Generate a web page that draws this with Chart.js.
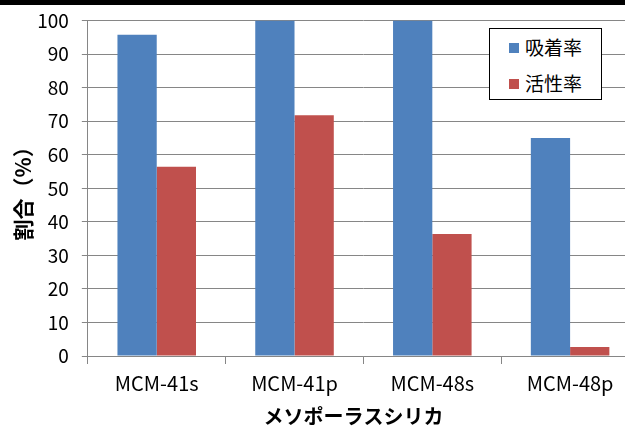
<!DOCTYPE html>
<html>
<head>
<meta charset="utf-8">
<script src="https://cdn.jsdelivr.net/npm/chart.js@4"></script>
<style>
  body { margin: 0; width: 625px; height: 428px; overflow: hidden; background: #fff; position: relative; }
  #topbar { position: absolute; left: 0; top: 0; width: 625px; height: 5px; background: #000; z-index: 2; }
  #wrap { position: absolute; left: 0; top: 0; width: 645px; height: 428px; }
  #legend { position: absolute; left: 489px; top: 28px; width: 113px; height: 72px; border: 1px solid #000;
    background: #fff; font-family: "Noto Sans CJK JP", sans-serif; font-size: 19px; color: #000; box-sizing: border-box; z-index: 1; }
  #legend div { position: absolute; left: 19px; line-height: 22px; white-space: nowrap; }
  #legend span { display: inline-block; width: 10px; height: 10px; margin-right: 6px; vertical-align: 2px; }
</style>
</head>
<body>
<div id="topbar"></div>
<div id="wrap"><canvas id="chart" width="645" height="428"></canvas></div>
<div id="legend"></div>
<script>
const categories = ['MCM-41s', 'MCM-41p', 'MCM-48s', 'MCM-48p'];
const adsorption = [95.8, 100, 100, 65];
const activity = [56.4, 71.8, 36.4, 2.7];
const yTicks = [0, 10, 20, 30, 40, 50, 60, 70, 80, 90, 100];

const font = '"Noto Sans CJK JP", sans-serif';
const grey = '#868686';

const datasets = [
  { label: '吸着率', data: adsorption, backgroundColor: '#4F81BD' },
  { label: '活性率', data: activity, backgroundColor: '#C0504D' }
];

new Chart(document.getElementById('chart'), {
  type: 'bar',
  data: { labels: categories, datasets: datasets },
  options: {
    responsive: false,
    animation: false,
    layout: { padding: { top: 0, right: 6, left: 0, bottom: 0 } },
    datasets: { bar: { categoryPercentage: 0.57, barPercentage: 1 } },
    plugins: { legend: { display: false }, tooltip: { enabled: false } },
    scales: {
      x: {
        grid: { offset: true, drawOnChartArea: false, color: grey, tickLength: 8 },
        border: { color: grey },
        ticks: { color: '#000', font: { family: font, size: 20 }, padding: 7 },
        title: { display: true, text: 'メソポーラスシリカ　', color: '#000',
          font: { family: font, size: 20, weight: 'bold' }, padding: { top: 2, bottom: 0 } }
      },
      y: {
        min: 0, max: 100,
        afterBuildTicks: axis => { axis.ticks = yTicks.map(v => ({ value: v })); },
        grid: { color: grey, tickLength: 6 },
        border: { color: grey },
        ticks: { color: '#000', font: { family: font, size: 19, lineHeight: 0.8 }, padding: 13 },
        title: { display: true, text: '割合（%）', color: '#000',
          font: { family: font, size: 21, weight: 'bold' }, padding: { top: 10, bottom: -11 } }
      }
    }
  }
});

const legend = document.getElementById('legend');
datasets.forEach((d, i) => {
  const row = document.createElement('div');
  row.style.top = (i === 0 ? 7 : 43) + 'px';
  row.innerHTML = '<span style="background:' + d.backgroundColor + '"></span>' + d.label;
  legend.appendChild(row);
});
</script>
</body>
</html>
